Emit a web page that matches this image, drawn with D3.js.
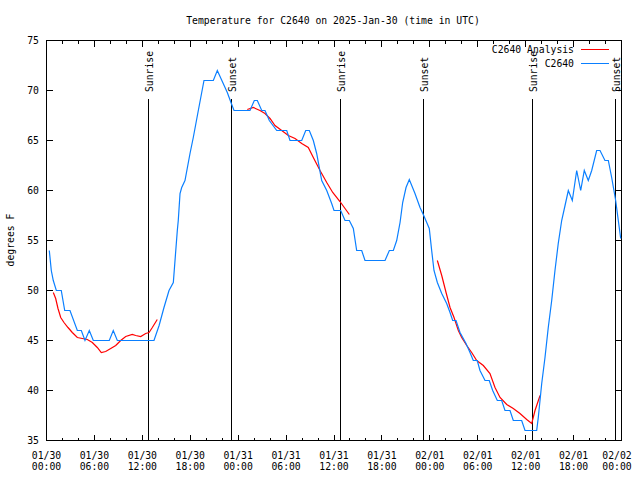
<!DOCTYPE html>
<html><head><meta charset="utf-8">
<script src="https://cdn.jsdelivr.net/npm/d3@7"></script>
<style>
body{margin:0;background:#fff;}
text{font-family:"DejaVu Sans Mono","Liberation Mono",monospace;font-size:9.75px;fill:#000;}
</style></head><body>
<svg id="c" width="640" height="480"></svg>
<script>
// ---- data (hours since 2025-01-30 00:00 UTC) ----
const obsHours = [0.35,0.60,0.85,1.23,1.85,2.28,2.94,3.86,4.36,4.82,5.36,5.86,7.86,8.36,8.87,13.46,14.1,14.71,15.34,15.88,16.38,16.5,16.72,16.93,17.34,17.97,18.38,19.01,19.72,20.89,21.39,22.64,23.1,23.48,25.48,26.02,26.4,26.95,27.36,27.9,28.83,30.08,30.49,31.96,32.46,32.91,33.41,33.83,34.46,35.09,35.71,36.0,36.84,37.38,37.92,38.42,38.84,39.47,39.88,42.39,42.93,43.43,43.85,44.27,44.6,45.02,45.43,46.14,46.77,47.18,47.61,47.93,48.23,48.52,48.94,49.49,50.11,50.53,50.86,51.28,51.78,52.53,53.03,53.44,53.94,54.28,54.91,55.44,55.87,56.45,57.0,57.41,58.04,58.45,59.5,59.92,61.38,61.58,62.01,62.42,62.83,63.26,63.67,64.08,64.51,64.93,65.34,65.84,66.39,66.89,67.34,67.84,68.27,68.89,69.31,69.93,70.35,70.77,71.27,71.6,71.9];
const obsTemps = [54,52,51,50,50,48,48,46,46,45,46,45,45,46,45,45,46.5,48.3,50,50.8,56,57,59.7,60.3,61,63.7,65.3,68,71,71,72,69.8,68.8,68,68,69,69,68,68,67,66,66,65,65,66,66,65,63.7,61,60,58.7,58,58,57,57,56.2,54,54,53,53,54,54,55,56.8,58.8,60.3,61.1,59.7,58.3,57.6,56.8,56.2,54,52,50.8,49.7,48.7,47.8,47,47,45.8,44.7,43.8,43,43,42,41,41,40,39,39,38,38,37,37,36,36,37.3,40.7,43.3,46.3,49,52,54.7,57,58.5,60,59,62,60,62,61,62,64,64,63,63,61.3,59,57,55.2];

const anaHours1 = [0.85,1.15,1.44,1.78,2.19,2.69,3.23,3.86,4.48,5.11,5.74,6.36,6.86,7.41,8.04,8.67,9.29,9.92,10.74,11.17,11.8,12.42,12.84,13.25,13.87];
const anaTemps1 = [49.8,49.2,48.2,47.3,46.8,46.3,45.8,45.3,45.2,45.1,44.8,44.3,43.8,43.9,44.2,44.5,45,45.4,45.6,45.5,45.4,45.7,45.8,46.3,47.1];
const anaHours2 = [25.14,25.9,26.73,27.36,27.99,28.61,29.45,30.28,31.12,31.96,32.78,33.41,34.25,35.09,35.84,36.75,37.38,37.92];
const anaTemps2 = [68.1,68.3,68,67.7,67.2,66.5,66,65.5,65.2,64.7,64.3,63.3,62,60.8,59.8,58.9,58.2,57.6];
const anaHours3 = [48.94,49.49,50.03,50.53,51.03,51.57,51.99,52.62,53.24,53.87,54.7,55.53,56.16,56.79,57.63,58.45,59.29,60.13,60.76,61.17,61.8];
const anaTemps3 = [53,51.5,49.8,48.3,47.3,46,45.3,44.5,43.8,43,42.5,41.7,40.3,39.3,38.6,38.2,37.7,37.1,36.7,38,39.5];

const sunriseHours = [12.75, 36.8, 60.8];
const sunsetHours = [23.15, 47.15, 71.2];
const yTicks = [35,40,45,50,55,60,65,70,75];
const titleText = "Temperature for C2640 on 2025-Jan-30 (time in UTC)";
const yLabel = "degrees F";
const seriesNames = ["C2640 Analysis","C2640"];
const seriesColors = ["#ff0000","#0a7fff"];

// ---- drawing ----
const t0 = Date.UTC(2025,0,30);
const H = 3600e3;
const toDate = h => new Date(t0 + h*H);
const L=46.5, R=621.5, T=40.5, B=440.5;
const svg = d3.select("#c");
const x = d3.scaleUtc().domain([toDate(0), toDate(72)]).range([L,R]);
const y = d3.scaleLinear().domain([35,75]).range([B, T]);

const g = svg.append("g").attr("shape-rendering","crispEdges");

// frame
g.append("rect").attr("x",L).attr("y",T).attr("width",R-L).attr("height",B-T)
 .attr("fill","none").attr("stroke","#000");

// y ticks
yTicks.forEach(v=>{
  const yy = Math.round(y(v)-0.5)+0.5;
  if(v>35 && v<75){
    g.append("line").attr("x1",L).attr("x2",L+6).attr("y1",yy).attr("y2",yy).attr("stroke","#000");
    g.append("line").attr("x1",R-6).attr("x2",R).attr("y1",yy).attr("y2",yy).attr("stroke","#000");
  }
  svg.append("text").attr("x",39).attr("y",y(v)+3.5).attr("text-anchor","end").text(v);
});

// x ticks
const minor = d3.utcHour.every(2).range(toDate(0), toDate(72.01));
minor.forEach(d=>{
  const xx = Math.round(x(d)-0.5)+0.5;
  const major = d.getUTCHours()%6===0;
  const len = major?6:3;
  if(xx>L+1 && xx<R-1){
    g.append("line").attr("x1",xx).attr("x2",xx).attr("y1",B).attr("y2",B-len).attr("stroke","#000");
    g.append("line").attr("x1",xx).attr("x2",xx).attr("y1",T).attr("y2",T+len).attr("stroke","#000");
  }
  if(major){
    const tx = svg.append("text").attr("text-anchor","middle");
    const lx = Math.min(x(d), 617);
    tx.append("tspan").attr("x",lx).attr("y",458.5).text(d3.utcFormat("%m/%d")(d));
    tx.append("tspan").attr("x",lx).attr("y",469.5).text(d3.utcFormat("%H:%M")(d));
  }
});

// sun lines
function sunLine(h,label){
  const xx = Math.round(x(toDate(h))-0.5)+0.5;
  g.append("line").attr("x1",xx).attr("x2",xx).attr("y1",99).attr("y2",B).attr("stroke","#000");
  svg.append("text").attr("transform",`translate(${xx+4.5},92) rotate(-90)`)
    .attr("text-anchor","start").text(label);
}
sunriseHours.forEach(h=>sunLine(h,"Sunrise"));
sunsetHours.forEach(h=>sunLine(h,"Sunset"));

// lines
const line = d3.line().x(d=>x(toDate(d[0]))).y(d=>y(d[1]));
const zip = (a,b)=>a.map((v,i)=>[v,b[i]]);
[[anaHours1,anaTemps1],[anaHours2,anaTemps2],[anaHours3,anaTemps3]].forEach(([h,t])=>{
  svg.append("path").datum(zip(h,t)).attr("d",line).attr("fill","none")
    .attr("stroke",seriesColors[0]).attr("stroke-width",1.2);
});
svg.append("path").datum(zip(obsHours,obsTemps)).attr("d",line).attr("fill","none")
  .attr("stroke",seriesColors[1]).attr("stroke-width",1.2);

// legend
seriesNames.forEach((n,i)=>{
  const yy = 49.5 + i*14;
  svg.append("text").attr("x",574).attr("y",yy+3.5).attr("text-anchor","end").text(n);
  g.append("line").attr("x1",581).attr("x2",609).attr("y1",yy).attr("y2",yy).attr("stroke",seriesColors[i]);
});

// title & y label
svg.append("text").attr("x",333).attr("y",23.5).attr("text-anchor","middle").text(titleText);
svg.append("text").attr("transform","translate(13.5,240) rotate(-90)").attr("text-anchor","middle").text(yLabel);
</script>
</body></html>
